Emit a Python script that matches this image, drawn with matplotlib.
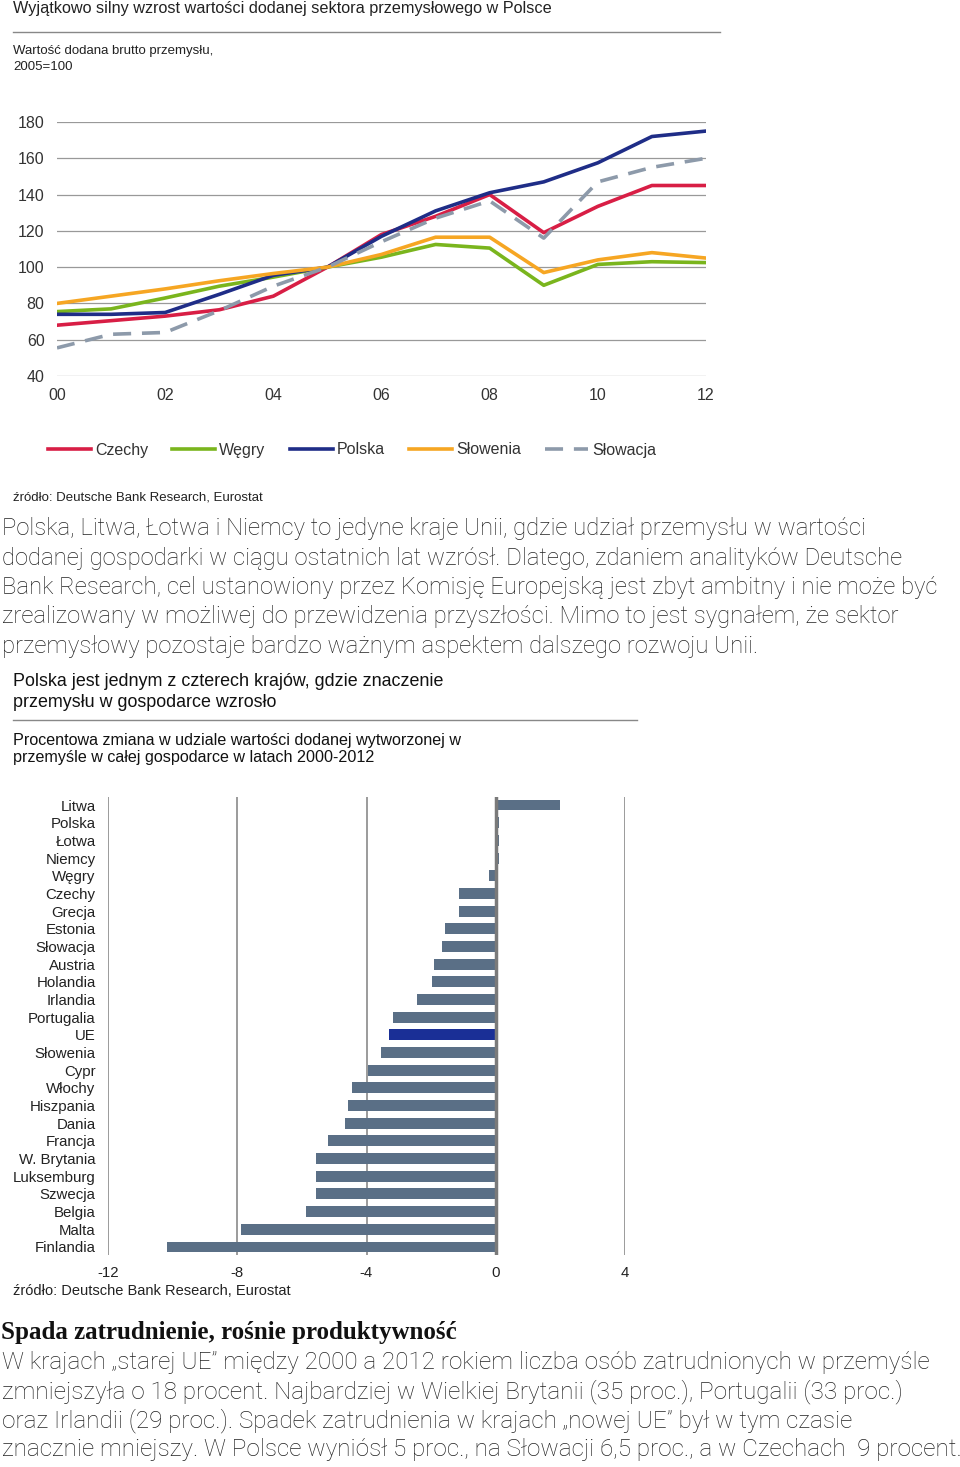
import matplotlib
matplotlib.use("Agg")
import matplotlib.pyplot as plt
from matplotlib.lines import Line2D

W, H = 960, 1467

# dane - wykres liniowy (2005=100)
years = list(range(0, 13))
year_labels = ["00", "02", "04", "06", "08", "10", "12"]
czechy = [68, 70.5, 73, 76.5, 84, 100, 118, 128, 140, 119, 133.5, 145, 145]
wegry = [75.5, 77, 83, 89.5, 94.5, 100, 105.5, 112.5, 110.5, 90, 101.5, 103, 102.5]
polska = [74, 74, 75, 85, 95.5, 100, 117, 131, 141, 147, 157.5, 172, 175]
slowenia = [80, 84, 88, 92.5, 96.5, 100, 107, 116.5, 116.5, 97, 104, 108, 105]
slowacja = [55.5, 63, 64, 76, 89.5, 100, 114, 127, 136.5, 116, 147, 155, 160]

# dane - wykres słupkowy
kraje = ["Litwa", "Polska", "Łotwa", "Niemcy", "Węgry", "Czechy", "Grecja", "Estonia",
         "Słowacja", "Austria", "Holandia", "Irlandia", "Portugalia", "UE", "Słowenia",
         "Cypr", "Włochy", "Hiszpania", "Dania", "Francja", "W. Brytania", "Luksemburg",
         "Szwecja", "Belgia", "Malta", "Finlandia"]
zmiana = [2.0, 0.1, 0.1, 0.1, -0.2, -1.15, -1.15, -1.57, -1.65, -1.9, -1.96, -2.45,
          -3.17, -3.3, -3.55, -3.95, -4.46, -4.57, -4.65, -5.19, -5.56, -5.56, -5.56,
          -5.87, -7.87, -10.17]
bar_ticks = [-12, -8, -4, 0, 4]

tekst1 = [
    "Polska, Litwa, Łotwa i Niemcy to jedyne kraje Unii, gdzie udział przemysłu w wartości",
    "dodanej gospodarki w ciągu ostatnich lat wzrósł. Dlatego, zdaniem analityków Deutsche",
    "Bank Research, cel ustanowiony przez Komisję Europejską jest zbyt ambitny i nie może być",
    "zrealizowany w możliwej do przewidzenia przyszłości. Mimo to jest sygnałem, że sektor",
    "przemysłowy pozostaje bardzo ważnym aspektem dalszego rozwoju Unii.",
]
tekst2 = [
    "W krajach \u201estarej UE\u201d między 2000 a 2012 rokiem liczba osób zatrudnionych w przemyśle",
    "zmniejszyła o 18 procent. Najbardziej w Wielkiej Brytanii (35 proc.), Portugalii (33 proc.)",
    "oraz Irlandii (29 proc.). Spadek zatrudnienia w krajach \u201enowej UE\u201d był w tym czasie",
    "znacznie mniejszy. W Polsce wyniósł 5 proc., na Słowacji 6,5 proc., a w Czechach  9 procent.",
]

plt.rcParams['font.family'] = ['Liberation Sans', 'DejaVu Sans']
plt.rcParams['axes.unicode_minus'] = False

BODY = ["Roboto", "DejaVu Sans"]


def fx(x):
    return x / W


def fy(y):
    return 1 - y / H


fig = plt.figure(figsize=(W / 100, H / 100), dpi=100)
fig.patch.set_facecolor("white")

# naglowek wykresu 1
fig.text(fx(13), fy(8), "Wyjątkowo silny wzrost wartości dodanej sektora przemysłowego w Polsce",
         fontsize=11.7, va="center", ha="left", color="#222222")
fig.add_artist(Line2D([fx(13), fx(720)], [fy(32), fy(32)], color="#888888", lw=1))
fig.text(fx(13), fy(51), "Wartość dodana brutto przemysłu,", fontsize=9.5, va="center", color="#222222")
fig.text(fx(13), fy(67), "2005=100", fontsize=9.5, va="center", color="#222222")

# wykres liniowy
ax = fig.add_axes([fx(57), fy(376), fx(706) - fx(57), (376 - 122) / H])
ax.set_xlim(0, 12)
ax.set_ylim(40, 180)
ax.set_yticks(range(40, 181, 20))
ax.set_xticks(range(0, 13, 2))
ax.set_xticklabels(year_labels)
ax.grid(axis="y", color="#999999", lw=0.9)
ax.set_axisbelow(True)
for s in ax.spines.values():
    s.set_visible(False)
ax.tick_params(length=0, labelsize=11.5, colors="#333333")
ax.tick_params(axis="y", pad=9)
ax.tick_params(axis="x", pad=9)

l1, = ax.plot(years, czechy, color="#d81e45", lw=2.6, label="Czechy")
l2, = ax.plot(years, wegry, color="#7ab51d", lw=2.6, label="Węgry")
l3, = ax.plot(years, polska, color="#1f2d87", lw=2.6, label="Polska")
l4, = ax.plot(years, slowenia, color="#f6a623", lw=2.6, label="Słowenia")
l5, = ax.plot(years, slowacja, color="#8d9aaa", lw=2.6, ls=(0, (5, 3)), label="Słowacja")

fig.legend(handles=[l1, l2, l3, l4, l5], loc="center", bbox_to_anchor=(fx(352), fy(450)),
           ncol=5, frameon=False, fontsize=11.5, handlelength=2.7, handletextpad=0.25,
           columnspacing=1.5, labelcolor="#333333")

fig.text(fx(13), fy(497), "źródło: Deutsche Bank Research, Eurostat", fontsize=9.5, va="center",
         color="#222222")

# akapit 1
for i, line in enumerate(tekst1):
    fig.text(fx(2), fy(529 + i * 29.3), line, fontsize=17.2, va="center", ha="left",
             family=BODY, fontweight="light", color="#222222")

# naglowek wykresu 2
fig.text(fx(13), fy(682), "Polska jest jednym z czterech krajów, gdzie znaczenie", fontsize=12.9,
         va="center", color="#111111")
fig.text(fx(13), fy(703), "przemysłu w gospodarce wzrosło", fontsize=12.9, va="center", color="#111111")
fig.add_artist(Line2D([fx(13), fx(637)], [fy(720), fy(720)], color="#888888", lw=1))
fig.text(fx(13), fy(740), "Procentowa zmiana w udziale wartości dodanej wytworzonej w", fontsize=11.6,
         va="center", color="#111111")
fig.text(fx(13), fy(758), "przemyśle w całej gospodarce w latach 2000-2012", fontsize=11.6,
         va="center", color="#111111")

# wykres slupkowy
n = len(kraje)
step = (1247 - 805) / (n - 1)
pad = 8 / step
bx = fig.add_axes([fx(108), fy(1255), fx(625) - fx(108), (1255 - 797) / H])
kolory = ["#1a2f96" if k == "UE" else "#5a6f86" for k in kraje]
bx.barh(range(n), zmiana, height=0.62, color=kolory, zorder=3)
bx.set_xlim(-12, 4)
bx.set_ylim(n - 1 + pad, -pad)
for s in bx.spines.values():
    s.set_visible(False)
for t in [-12, -8, -4, 4]:
    bx.axvline(t, color="#8a8a8a", lw=1.2, zorder=1)
bx.axvline(0, color="#7a7a7a", lw=2.5, zorder=4)
bx.set_yticks(range(n))
bx.set_yticklabels(kraje)
bx.set_xticks(bar_ticks)
bx.tick_params(length=0, labelsize=10.8, colors="#222222")
bx.tick_params(axis="y", pad=9)
bx.tick_params(axis="x", pad=8)

fig.text(fx(13), fy(1291), "źródło: Deutsche Bank Research, Eurostat", fontsize=10.5, va="center",
         color="#222222")

# akapit 2
fig.text(fx(1), fy(1333), "Spada zatrudnienie, rośnie produktywność", fontsize=18, fontweight="bold",
         family=["Liberation Serif", "DejaVu Serif"], va="center", color="#111111")
for i, line in enumerate(tekst2):
    fig.text(fx(2), fy(1362 + i * 29.3), line, fontsize=17.5, va="center", ha="left",
             family=BODY, fontweight="light", color="#222222")

fig.savefig("out.png", dpi=100)
